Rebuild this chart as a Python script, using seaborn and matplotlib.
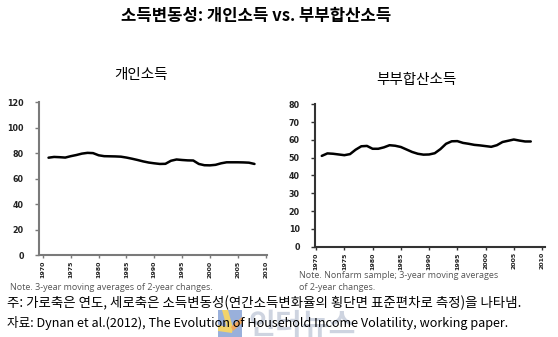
import matplotlib
matplotlib.use("Agg")
import matplotlib.pyplot as plt
from matplotlib.patches import Polygon
import seaborn as sns
import pandas as pd
import numpy as np

sns.set_theme(style="white")
plt.rcParams['font.family'] = ['Noto Sans CJK KR', 'DejaVu Sans']

years = list(range(1971, 2009))
individual = [76.4, 77.0, 76.8, 76.5, 77.6, 78.5, 79.6, 80.2, 80.0, 78.3,
              77.6, 77.5, 77.4, 77.2, 76.5, 75.6, 74.6, 73.5, 72.6, 72.0,
              71.5, 71.6, 74.0, 75.0, 74.6, 74.3, 74.2, 71.5, 70.5, 70.4,
              70.8, 72.0, 72.8, 72.8, 72.8, 72.7, 72.5, 71.5]
couple = [51.0, 52.4, 52.2, 51.8, 51.4, 52.0, 54.5, 56.4, 56.6, 55.0,
          55.0, 55.8, 57.0, 56.7, 56.0, 54.6, 53.2, 52.2, 51.7, 51.8,
          52.5, 54.8, 57.8, 59.2, 59.3, 58.3, 57.8, 57.2, 56.9, 56.5,
          56.1, 57.0, 58.8, 59.5, 60.2, 59.6, 59.1, 59.1]
x_ticks = list(range(1970, 2011, 5))
left_yticks = list(range(0, 121, 20))
right_yticks = list(range(0, 81, 10))

main_title = "소득변동성: 개인소득 vs. 부부합산소득"
left_title = "개인소득"
right_title = "부부합산소득"
left_note = "Note. 3-year moving averages of 2-year changes."
right_note = ["Note. Nonfarm sample; 3-year moving averages", "of 2-year changes."]
footer1 = "주: 가로축은 연도, 세로축은 소득변동성(연간소득변화율의 횡단면 표준편차로 측정)을 나타냄."
footer2 = "자료: Dynan et al.(2012), The Evolution of Household Income Volatility, working paper."
watermark = "인터뉴스"

df_l = pd.DataFrame({"year": years, "value": individual})
df_r = pd.DataFrame({"year": years, "value": couple})

W, H = 558, 337
fig = plt.figure(figsize=(5.58, 3.37), dpi=100)
axL = fig.add_axes([0.070, 0.243, 0.409, 0.454])
axR = fig.add_axes([0.5645, 0.268, 0.412, 0.4226])

def fx(x):
    return x / W

def fy(y):
    return 1 - y / H

def style(ax, df, yticks, ylim, xlim, spine_color):
    sns.lineplot(data=df, x="year", y="value", ax=ax, color="black", linewidth=1.8)
    ax.set_xlim(*xlim)
    ax.set_ylim(*ylim)
    ax.set_xticks(x_ticks)
    ax.set_yticks(yticks)
    ax.set_xticklabels([str(t) for t in x_ticks], rotation=90,
                       fontsize=4.5, fontweight="bold", family="DejaVu Sans", color="#222222")
    ax.set_yticklabels([str(t) for t in yticks],
                       fontsize=5.8, fontweight="bold", family="DejaVu Sans", color="#222222")
    ax.set_xlabel("")
    ax.set_ylabel("")
    for s in ["top", "right"]:
        ax.spines[s].set_visible(False)
    for s in ["left", "bottom"]:
        ax.spines[s].set_color(spine_color)
        ax.spines[s].set_linewidth(1.5)
    ax.tick_params(axis="both", length=3, width=1, color=spine_color, pad=2,
                   bottom=True, left=True, direction="out")
    ax.tick_params(axis="x", length=2.5, pad=1.5)
    ax.tick_params(axis="y", pad=8)
    ax.grid(False)

style(axL, df_l, left_yticks, (0, 120), (1969.3, 2010.3), "#7a7a7a")
style(axR, df_r, right_yticks, (0, 80), (1969.8, 2010.5), "#333333")

fig.text(0.459, fy(16), main_title, ha="center", va="center",
         fontsize=12, fontweight="bold", color="black")
fig.text(fx(141), fy(75), left_title, ha="center", va="center",
         fontsize=10.5, color="black")
fig.text(fx(416), fy(80), right_title, ha="center", va="center",
         fontsize=10.5, color="black")

fig.text(fx(10), fy(287), left_note, ha="left", va="center",
         fontsize=6.5, color="#555555", family="Open Sans")
fig.text(fx(299), fy(275), right_note[0], ha="left", va="center",
         fontsize=6.5, color="#555555", family="Open Sans")
fig.text(fx(299), fy(287), right_note[1], ha="left", va="center",
         fontsize=6.5, color="#555555", family="Open Sans")

# watermark logo (drawn under footer text)
fig.patches.append(Polygon([(fx(218), fy(310)), (fx(242), fy(310)), (fx(242), fy(337)), (fx(218), fy(337))],
                           closed=True, transform=fig.transFigure, facecolor="#8ea8d8",
                           edgecolor="none", alpha=0.9, zorder=0))
fig.patches.append(Polygon([(fx(222), fy(310)), (fx(228), fy(310)), (fx(233), fy(328)), (fx(227), fy(328))],
                           closed=True, transform=fig.transFigure, facecolor="#f2d36b",
                           edgecolor="none", zorder=0))
fig.patches.append(Polygon([(fx(218), fy(325)), (fx(233), fy(328)), (fx(232), fy(333)), (fx(218), fy(331))],
                           closed=True, transform=fig.transFigure, facecolor="#f2d36b",
                           edgecolor="none", zorder=0))
fig.patches.append(Polygon([(fx(242), fy(317)), (fx(242), fy(323)), (fx(233), fy(331)), (fx(231), fy(327))],
                           closed=True, transform=fig.transFigure, facecolor="#f0a860",
                           edgecolor="none", zorder=0))
fig.text(fx(302), fy(325), watermark, ha="center", va="center",
         fontsize=21, color="#aeb8cc", alpha=0.6, fontweight="bold", zorder=0)

fig.text(fx(7), fy(303), footer1, ha="left", va="center",
         fontsize=9.65, color="black", zorder=5)
fig.text(fx(7), fy(323), footer2, ha="left", va="center",
         fontsize=9.1, color="black", zorder=5)

fig.savefig("out.png", dpi=100)
